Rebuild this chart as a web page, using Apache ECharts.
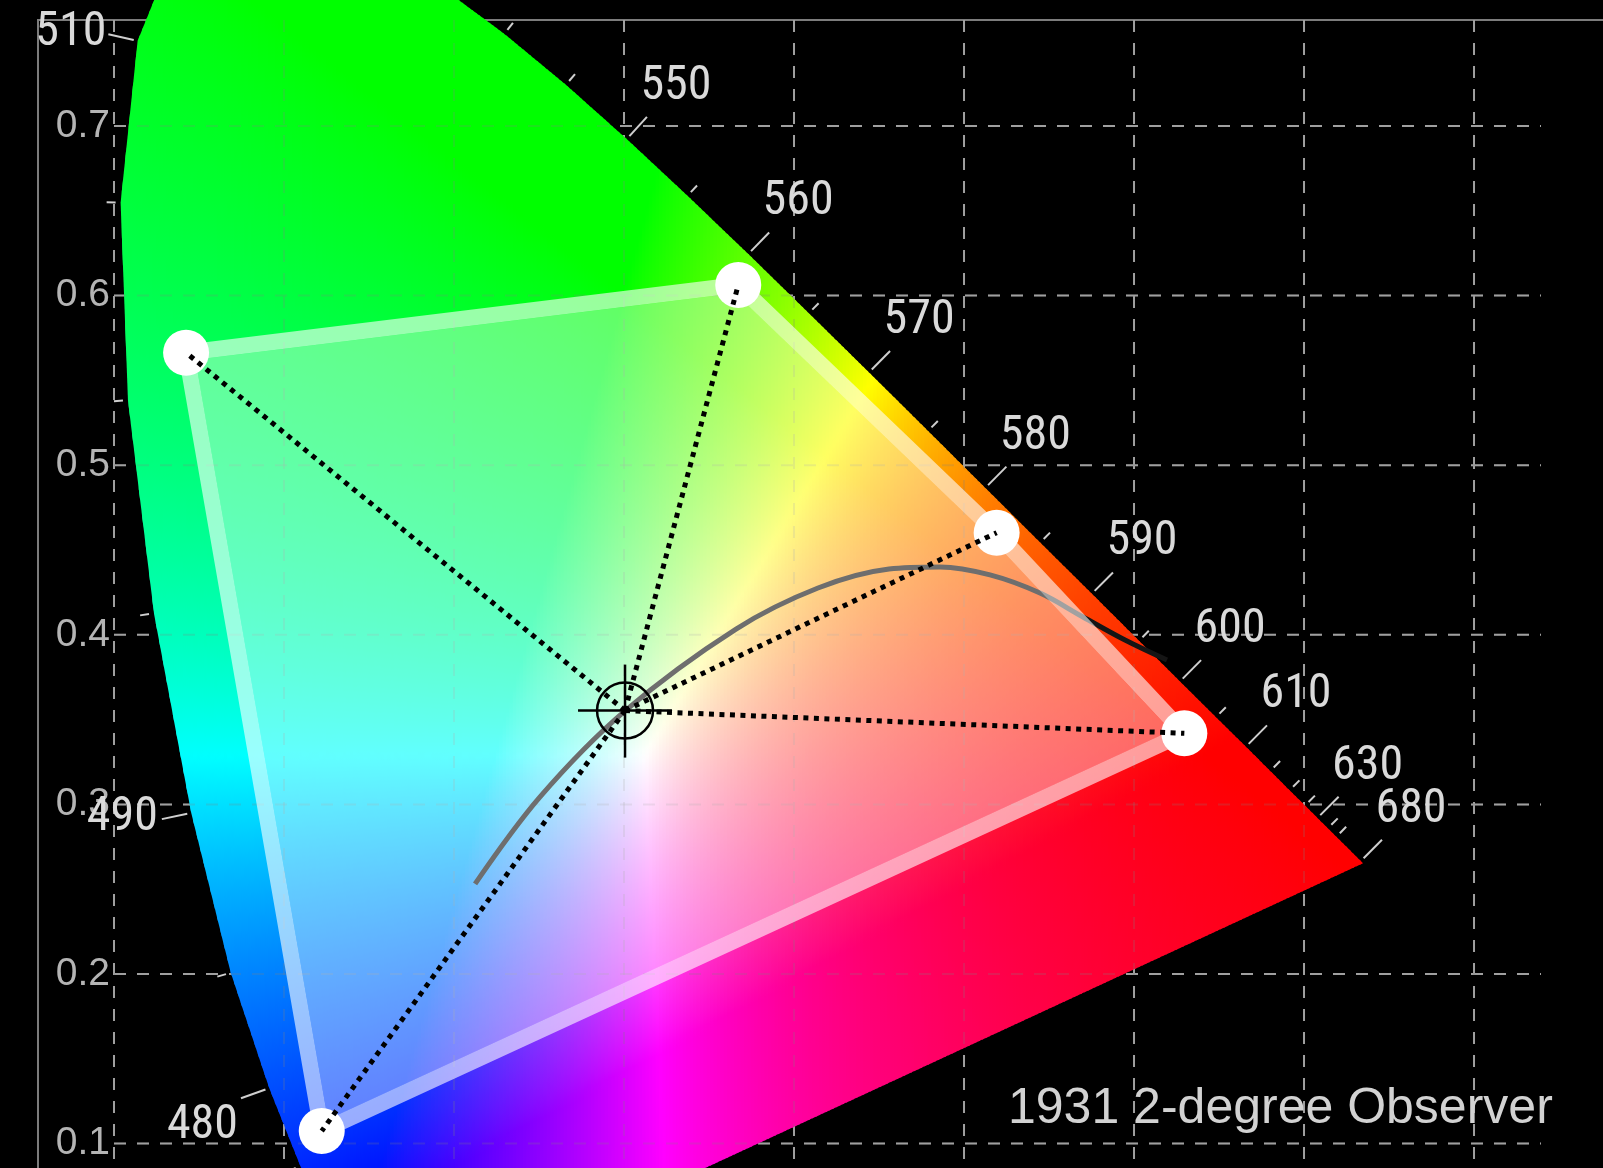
<!DOCTYPE html>
<html><head><meta charset="utf-8">
<script src="https://cdn.jsdelivr.net/npm/echarts@6/dist/echarts.min.js"></script>
<style>html,body{margin:0;padding:0;background:#000;}#c{width:1603px;height:1168px;}</style>
</head><body><div id="c"></div>
<script>
// ---- data ----
const LOCUS_NM = [380,385,390,395,400,405,410,415,420,425,430,435,440,445,450,455,460,465,470,475,480,485,490,495,500,505,510,515,520,525,530,535,540,545,550,555,560,565,570,575,580,585,590,595,600,605,610,615,620,625,630,635,640,645,650,655,660,665,670,675,680,685,690,695,700];
const LOCUS_X = [0.1741,0.1740,0.1738,0.1736,0.1733,0.1730,0.1726,0.1721,0.1714,0.1703,0.1689,0.1669,0.1644,0.1611,0.1566,0.1510,0.1440,0.1355,0.1241,0.1096,0.0913,0.0687,0.0454,0.0235,0.0082,0.0039,0.0139,0.0389,0.0743,0.1142,0.1547,0.1929,0.2296,0.2658,0.3016,0.3373,0.3731,0.4087,0.4441,0.4788,0.5125,0.5448,0.5752,0.6029,0.6270,0.6482,0.6658,0.6801,0.6915,0.7006,0.7079,0.7140,0.7190,0.7230,0.7260,0.7283,0.7300,0.7311,0.7320,0.7327,0.7334,0.7340,0.7344,0.7346,0.7347];
const LOCUS_Y = [0.0050,0.0050,0.0049,0.0049,0.0048,0.0048,0.0048,0.0048,0.0051,0.0058,0.0069,0.0086,0.0109,0.0138,0.0177,0.0227,0.0297,0.0399,0.0578,0.0868,0.1327,0.2007,0.2950,0.4127,0.5384,0.6548,0.7502,0.8120,0.8338,0.8262,0.8059,0.7816,0.7543,0.7243,0.6923,0.6589,0.6245,0.5896,0.5547,0.5202,0.4866,0.4544,0.4242,0.3965,0.3725,0.3514,0.3340,0.3197,0.3083,0.2993,0.2920,0.2859,0.2809,0.2770,0.2740,0.2717,0.2700,0.2689,0.2680,0.2673,0.2666,0.2660,0.2656,0.2654,0.2653];
const TICK_NM = [470,475,480,485,490,495,500,505,510,515,520,525,530,535,540,545,550,555,560,565,570,575,580,585,590,595,600,605,610,615,620,625,630,635,640,680];
const LABEL_NM = [480,490,510,550,560,570,580,590,600,610,630,680];
const X_TICKS = [0,0.1,0.2,0.3,0.4,0.5,0.6,0.7,0.8];
const Y_TICKS = [0.1,0.2,0.3,0.4,0.5,0.6,0.7];
const PLANCK_X = [0.2124,0.2506,0.3006,0.3659,0.4141,0.4559,0.4859,0.5153,0.5447,0.5700,0.5947,0.6194];
const PLANCK_Y = [0.2531,0.3044,0.3551,0.4034,0.4276,0.4388,0.4400,0.4353,0.4246,0.4105,0.3969,0.3851];
const GAMUT_X = [0.0424,0.3672,0.5192,0.6296,0.1222];
const GAMUT_Y = [0.5663,0.6063,0.4602,0.3419,0.1074];
const WHITE_X = 0.3006, WHITE_Y = 0.3553;
const TITLE = '1931 2-degree Observer';

// ---- layout / style ----
const X_MIN = 0, X_MAX = 0.8394, Y_MIN = 0.0856, Y_MAX = 0.7625;
const STRIP_W = 0.002, OVERLAP = 0.0004;
const COLOR_EXP = 1/1.2;
const LABEL_FONT = '"Liberation Sans Narrow","Arial Narrow","Roboto Condensed","DejaVu Sans Condensed",sans-serif';
const LABEL_POS = {480:{dx:-3,dy:28,align:'right'},490:{dx:-4,dy:-1,align:'right'},510:{dx:-2,dy:-1,align:'right'}};
const LABEL_DEF = {dx:29,dy:-30,align:'center'};

const LOCUS_POLY = LOCUS_X.map((x,i)=>[x, LOCUS_Y[i]]);

function clipHalf(poly, x0, keepGreater){
  const out=[];
  for(let i=0;i<poly.length;i++){
    const a=poly[i], b=poly[(i+1)%poly.length];
    const ina = keepGreater ? a[0]>=x0 : a[0]<=x0;
    const inb = keepGreater ? b[0]>=x0 : b[0]<=x0;
    if(ina) out.push(a);
    if(ina!==inb){ const t=(x0-a[0])/(b[0]-a[0]); out.push([x0, a[1]+t*(b[1]-a[1])]); }
  }
  return out;
}
function gam(c){ return Math.pow(c, COLOR_EXP); }
function xyColor(x,y){
  const X=x/y, Z=(1-x-y)/y;
  let r=3.2406*X-1.5372-0.4986*Z, g=-0.9689*X+1.8758+0.0415*Z, b=0.0557*X-0.2040+1.0570*Z;
  r=Math.max(r,0); g=Math.max(g,0); b=Math.max(b,0);
  const m=Math.max(r,g,b)||1;
  return 'rgb('+Math.round(255*gam(r/m))+','+Math.round(255*gam(g/m))+','+Math.round(255*gam(b/m))+')';
}
const STRIPS=[];
for(let x=0.003; x<0.7348; x+=STRIP_W) STRIPS.push([x]);

function horseshoeItem(params, api){
  const x0=api.value(0), x1=x0+STRIP_W;
  let poly=clipHalf(LOCUS_POLY, x0-OVERLAP, true);
  poly=clipHalf(poly, x1+OVERLAP, false);
  if(poly.length<3) return null;
  let ymin=Infinity, ymax=-Infinity;
  poly.forEach(p=>{ if(p[1]<ymin) ymin=p[1]; if(p[1]>ymax) ymax=p[1]; });
  if(ymax-ymin<1e-6) return null;
  const xm=(x0+x1)/2;
  const top=api.coord([xm,ymax]), bot=api.coord([xm,ymin]);
  const n=Math.max(2, Math.ceil((ymax-ymin)/0.005)+1);
  const stops=[];
  for(let k=0;k<n;k++){ const t=k/(n-1); stops.push({offset:t, color:xyColor(Math.max(xm,0.001), ymax-t*(ymax-ymin))}); }
  return {type:'polygon', silent:true, shape:{points:poly.map(p=>api.coord(p))},
    style:{fill:{type:'linear', x:top[0], y:top[1], x2:bot[0], y2:bot[1]+0.01, global:true, colorStops:stops}}};
}
function vGridItem(style){ return function(params, api){
  const v=api.value(0); const a=api.coord([v,Y_MAX]), b=api.coord([v,Y_MIN]);
  return {type:'line', silent:true, shape:{x1:a[0],y1:a[1],x2:b[0],y2:b[1]}, style:Object.assign({},style)};
};}
function hGridItem(style){ return function(params, api){
  const v=api.value(0); const a=api.coord([X_MIN,v]), b=api.coord([X_MAX,v]);
  return {type:'line', silent:true, shape:{x1:a[0],y1:a[1],x2:b[0],y2:b[1]}, style:Object.assign({},style)};
};}
const GRID_STYLE={stroke:'#a8a8a8', lineWidth:2, lineDash:[12,11]};
const GRID_OVER={stroke:'rgba(128,128,128,0.22)', lineWidth:2, lineDash:[12,11]};

function tickItem(params, api){
  const nm=api.value(0); const i=LOCUS_NM.indexOf(nm);
  const p=api.coord([LOCUS_X[i],LOCUS_Y[i]]);
  const pa=api.coord([LOCUS_X[i-1],LOCUS_Y[i-1]]), pb=api.coord([LOCUS_X[i+1],LOCUS_Y[i+1]]);
  let dx=pb[0]-pa[0], dy=pb[1]-pa[1]; const L=Math.hypot(dx,dy)||1; dx/=L; dy/=L;
  const nx=dy, ny=-dx;
  const major=LABEL_NM.indexOf(nm)>=0;
  const r0=major?4:5, r1=major?30:14;
  const e=[p[0]+nx*r1, p[1]+ny*r1];
  const children=[{type:'line', silent:true, shape:{x1:p[0]+nx*r0,y1:p[1]+ny*r0,x2:e[0],y2:e[1]}, style:{stroke:'#cfcfcf', lineWidth:2}}];
  if(major){
    const lp=LABEL_POS[nm]||LABEL_DEF;
    children.push({type:'text', silent:true, x:e[0]+lp.dx, y:e[1]+lp.dy,
      style:{text:String(nm), fill:'#dadada', fontSize:48, fontFamily:LABEL_FONT, align:lp.align, verticalAlign:'middle'}});
  }
  return {type:'group', children};
}
function insetPoly(pts, h){
  const n=pts.length; let cx=0, cy=0; pts.forEach(p=>{cx+=p[0];cy+=p[1];}); cx/=n; cy/=n;
  const lines=[];
  for(let i=0;i<n;i++){
    const a=pts[i], b=pts[(i+1)%n]; let dx=b[0]-a[0], dy=b[1]-a[1]; const L=Math.hypot(dx,dy); dx/=L; dy/=L;
    let nx=-dy, ny=dx; if((cx-a[0])*nx+(cy-a[1])*ny<0){nx=-nx;ny=-ny;}
    lines.push({p:[a[0]+nx*h, a[1]+ny*h], d:[dx,dy]});
  }
  const out=[];
  for(let i=0;i<n;i++){
    const l1=lines[(i-1+n)%n], l2=lines[i];
    const den=l1.d[0]*l2.d[1]-l1.d[1]*l2.d[0];
    const t=((l2.p[0]-l1.p[0])*l2.d[1]-(l2.p[1]-l1.p[1])*l2.d[0])/den;
    out.push([l1.p[0]+l1.d[0]*t, l1.p[1]+l1.d[1]*t]);
  }
  return out;
}
function gamutItem(params, api){
  const pts=GAMUT_X.map((x,i)=>api.coord([x,GAMUT_Y[i]]));
  const inner=insetPoly(pts, 8);
  return {type:'group', children:[
    {type:'polygon', silent:true, shape:{points:inner}, style:{fill:'rgba(255,255,255,0.38)'}},
    {type:'polygon', silent:true, shape:{points:pts}, style:{fill:null, stroke:'rgba(255,255,255,0.6)', lineWidth:16, lineJoin:'round'}}
  ]};
}
function dottedItem(params, api){
  const i=api.value(0);
  const w=api.coord([WHITE_X,WHITE_Y]), v=api.coord([GAMUT_X[i],GAMUT_Y[i]]);
  return {type:'line', silent:true, shape:{x1:w[0],y1:w[1],x2:v[0],y2:v[1]}, style:{stroke:'#000', lineWidth:5, lineDash:[5,5.5]}};
}
function crossItem(params, api){
  const c=api.coord([api.value(0),api.value(1)]);
  const st={stroke:'#000', lineWidth:2.5};
  return {type:'group', children:[
    {type:'circle', silent:true, shape:{cx:c[0],cy:c[1],r:28}, style:Object.assign({fill:null},st)},
    {type:'line', silent:true, shape:{x1:c[0]-47,y1:c[1],x2:c[0]+47,y2:c[1]}, style:st},
    {type:'line', silent:true, shape:{x1:c[0],y1:c[1]-46,x2:c[0],y2:c[1]+47}, style:st}
  ]};
}

const chart=echarts.init(document.getElementById('c'), null, {renderer:'canvas'});
chart.setOption({
  backgroundColor:'#000',
  animation:false,
  title:{text:TITLE, left:1008, top:1084, padding:0, textStyle:{fontSize:50, fontWeight:'normal', color:'#d2d2d2', fontFamily:'"Liberation Sans",Arial,sans-serif'}},
  graphic:[{type:'polyline', silent:true, shape:{points:[[38,1168],[38,20],[1603,20]]}, style:{stroke:'#7c7c7c', lineWidth:2, fill:null}, z:0}],
  grid:{left:114, right:62, top:20, bottom:0, containLabel:false, outerBoundsMode:'none'},
  xAxis:{type:'value', min:X_MIN, max:X_MAX, show:false, splitLine:{show:false}},
  yAxis:{type:'value', min:Y_MIN, max:Y_MAX, splitNumber:7,
    axisLine:{show:false}, axisTick:{show:false}, splitLine:{show:false},
    axisLabel:{show:true, color:'#b4b4b4', fontSize:39, fontFamily:'"Liberation Sans",Arial,sans-serif', margin:4, showMaxLabel:false, showMinLabel:false,
      formatter:(v)=> Y_TICKS.some(t=>Math.abs(t-v)<1e-6) ? v.toFixed(1) : ''}},
  series:[
    {type:'custom', z:1, data:X_TICKS.map(v=>[v]), renderItem:vGridItem(GRID_STYLE)},
    {type:'custom', z:1, data:Y_TICKS.map(v=>[v]), renderItem:hGridItem(GRID_STYLE)},
    {type:'custom', z:2, data:STRIPS, renderItem:horseshoeItem},
    {type:'custom', z:3, data:X_TICKS.map(v=>[v]), renderItem:vGridItem(GRID_OVER)},
    {type:'custom', z:3, data:Y_TICKS.map(v=>[v]), renderItem:hGridItem(GRID_OVER)},
    {type:'custom', z:3, data:TICK_NM.map(v=>[v]), renderItem:tickItem},
    {type:'line', z:4, data:PLANCK_X.map((x,i)=>[x,PLANCK_Y[i]]), smooth:0.35, showSymbol:false, symbol:'none', silent:true,
      lineStyle:{color:'#151515', width:5}},
    {type:'custom', z:5, data:[[0]], renderItem:gamutItem},
    {type:'scatter', z:6, data:GAMUT_X.map((x,i)=>[x,GAMUT_Y[i]]), symbolSize:46, silent:true, itemStyle:{color:'#ffffff', opacity:1}},
    {type:'custom', z:7, data:GAMUT_X.map((x,i)=>[i]), renderItem:dottedItem},
    {type:'custom', z:8, data:[[WHITE_X,WHITE_Y]], renderItem:crossItem}
  ]
});
</script></body></html>
